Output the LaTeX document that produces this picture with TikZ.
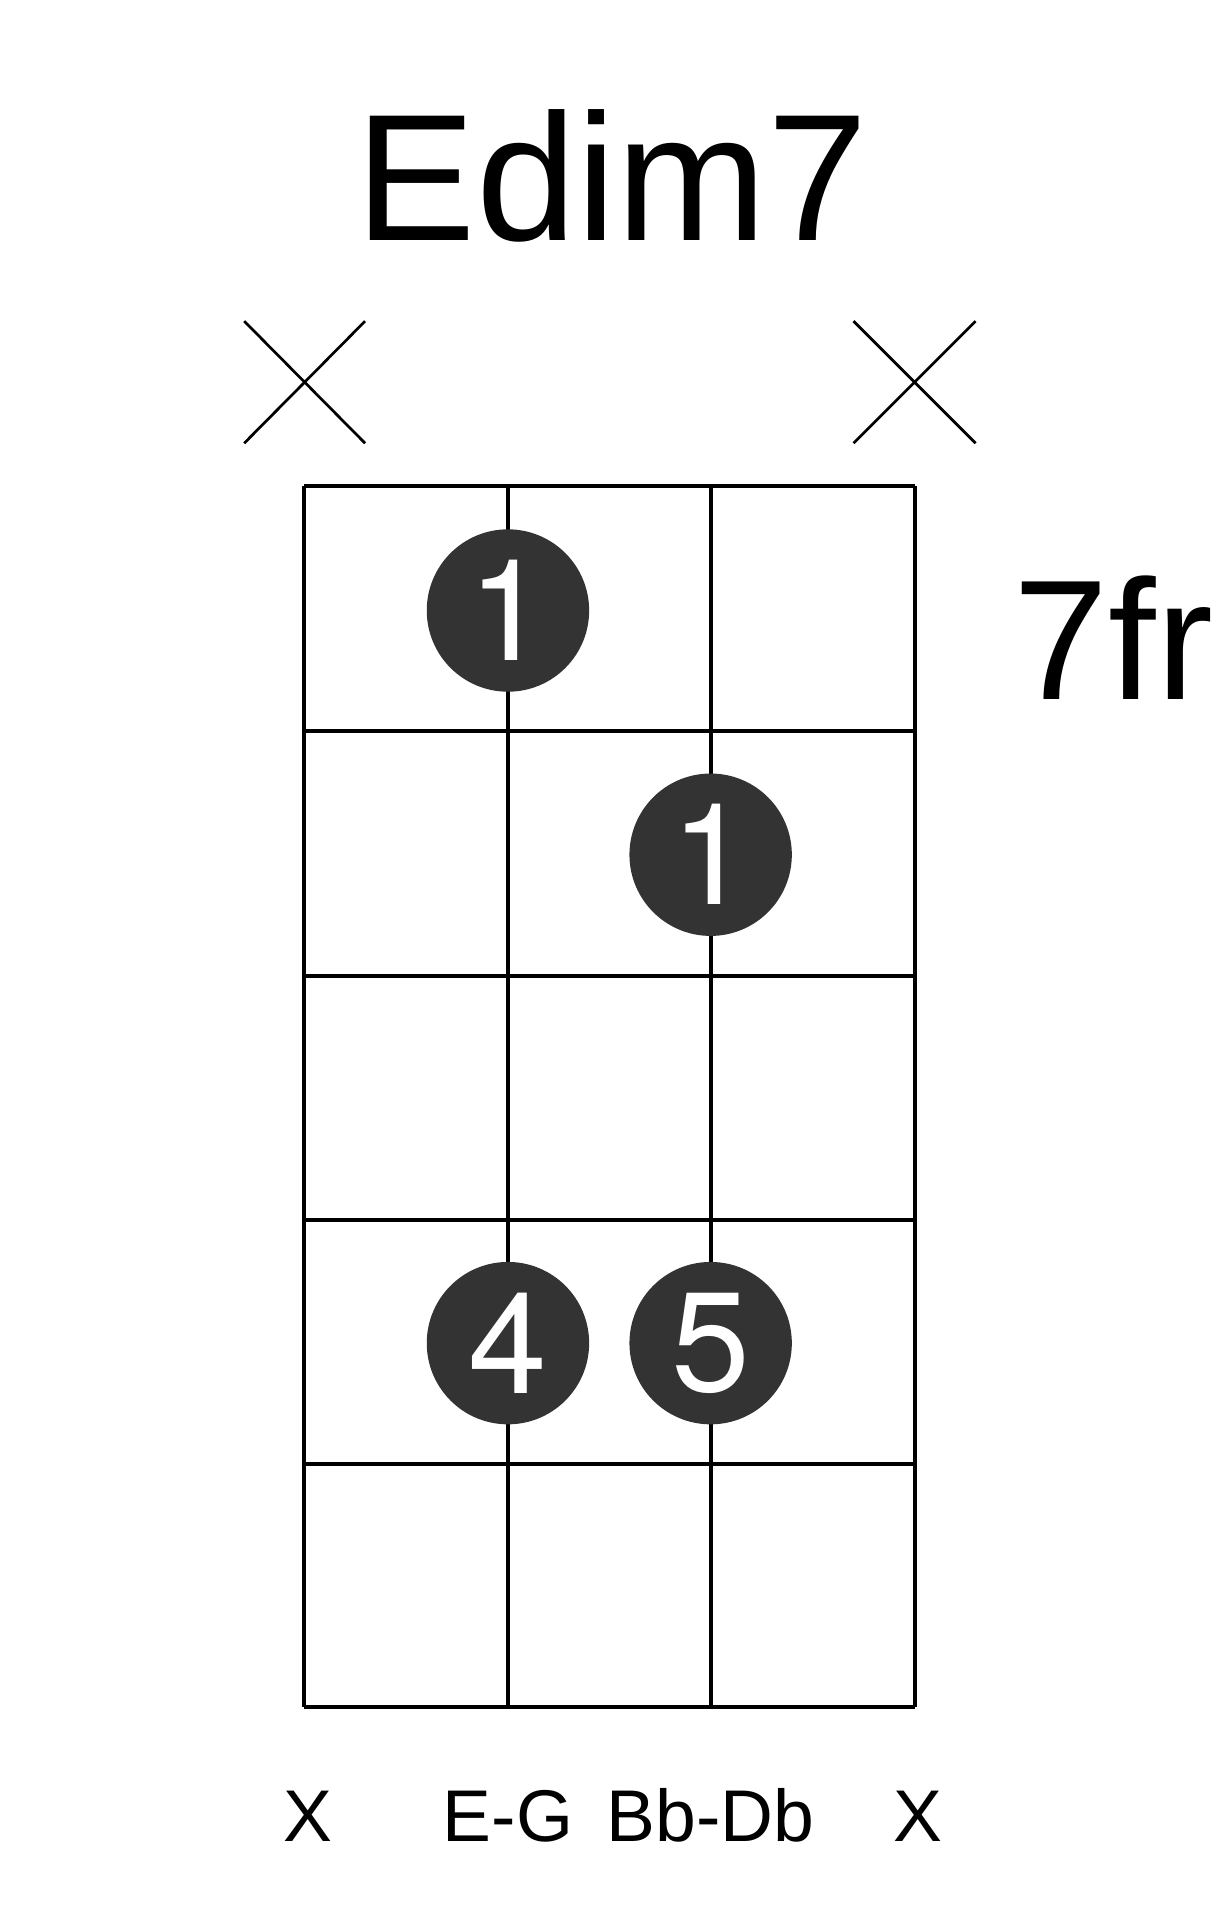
\documentclass[tikz,border=0pt]{standalone}
\usepackage{fontspec}
\setmainfont{Liberation Sans}
\newfontfamily\dotfont{TeX Gyre Heros}
\begin{document}
\begin{tikzpicture}[x=0.5pt,y=-0.5pt,
  gridline/.style={line width=1.6pt,black},
  mutemark/.style={line width=1.1pt,black},
  fingerdot/.style={circle,fill=black!80,inner sep=0pt,minimum size=66.5pt,text=white,font=\dotfont\fontsize{58}{58}\selectfont},
  bottomlabel/.style={anchor=base,inner sep=0pt,font=\fontsize{30}{30}\selectfont}]
\useasboundingbox (0,0) rectangle (1000,1570);
% title
\node[anchor=base,inner sep=0pt,font=\fontsize{74}{74}\selectfont] (title) at (501,197) {Edim7};
% muted string marks
\draw[mutemark] (200,263) -- (299,363) (200,363) -- (299,263);
\draw[mutemark] (699,263) -- (799,363) (699,363) -- (799,263);
% grid
\foreach \x in {249,416,582,749} \draw[gridline] (\x,398) -- (\x,1398);
\foreach \y in {398,599,799,999,1199,1398} \draw[gridline] (249,\y) -- (749,\y);
% fret label
\node[anchor=base west,inner sep=0pt,font=\fontsize{70}{70}\selectfont] (fret) at (830,573) {7fr};
% finger dots
\node[fingerdot] (d1) at (416,500) {1};
\node[fingerdot] (d2) at (582,700) {1};
\node[fingerdot] (d3) at (416,1100) {4};
\node[fingerdot] (d4) at (582,1100) {5};
% bottom labels
\node[bottomlabel] (l1) at (252,1508) {X};
\node[bottomlabel] (l2) at (416,1508) {E-G};
\node[bottomlabel] (l3) at (582,1508) {Bb-Db};
\node[bottomlabel] (l4) at (752,1508) {X};
\end{tikzpicture}
\end{document}
